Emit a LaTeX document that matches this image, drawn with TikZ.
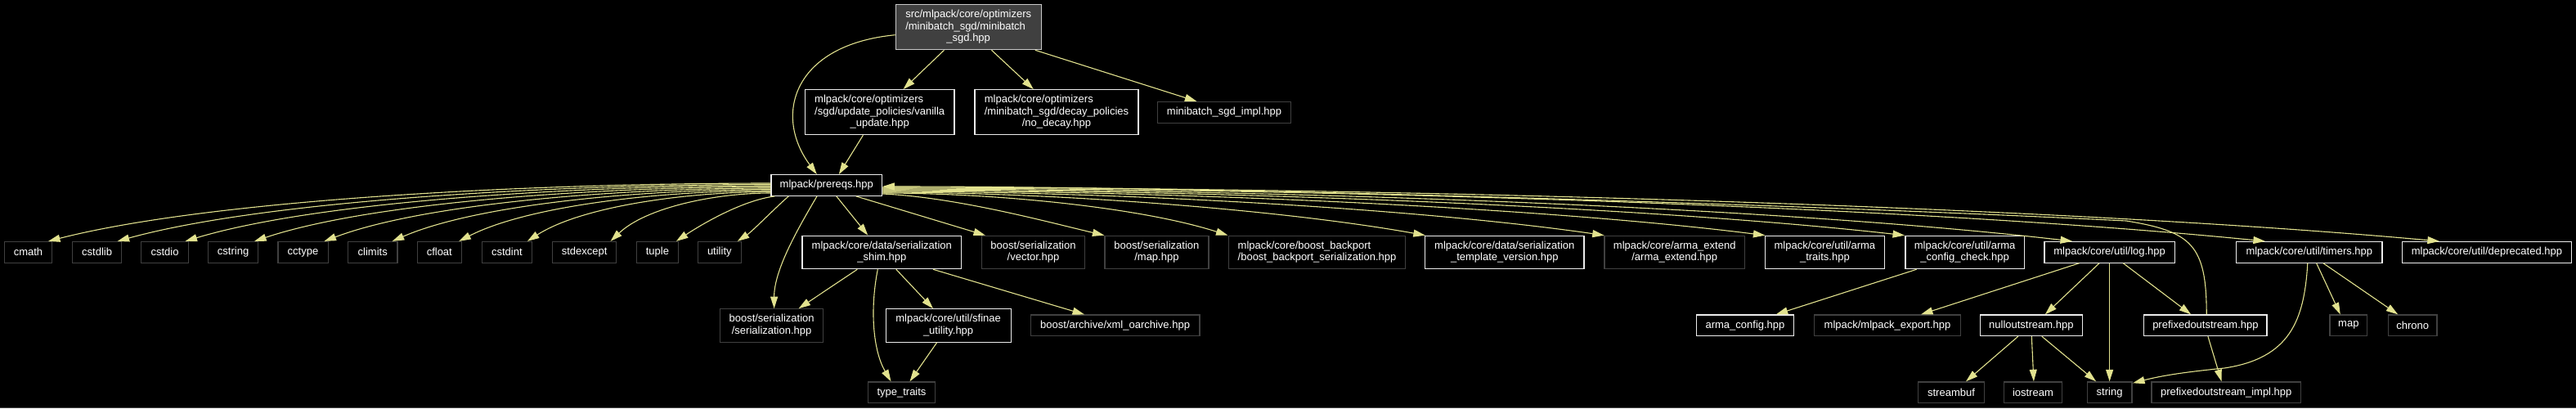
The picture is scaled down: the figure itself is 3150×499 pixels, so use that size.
\documentclass[tikz,border=0pt]{standalone}
\usepackage{fontspec}
\setmainfont{Liberation Sans}
\usetikzlibrary{arrows.meta,calc}
\definecolor{edgecol}{RGB}{226,226,142}
\definecolor{graybd}{RGB}{64,64,64}
\definecolor{whitebd}{RGB}{236,236,236}
\definecolor{rootfill}{RGB}{64,64,64}
\definecolor{rootbd}{RGB}{200,200,200}
\newcommand{\twol}[2]{\begin{tabular}{@{}l@{}}#1\\\multicolumn{1}{@{}c@{}}{#2}\end{tabular}}
\newcommand{\threel}[3]{\begin{tabular}{@{}l@{}}#1\\#2\\\multicolumn{1}{@{}c@{}}{#3}\end{tabular}}
\begin{document}
\begin{tikzpicture}[x=1pt,y=-1pt,
  base/.style={draw, line width=1.2pt, inner sep=0pt, text=white, fill=black,
    font=\fontsize{13}{14.3}\selectfont},
  wbox/.style={base, draw=whitebd},
  gbox/.style={base, draw=graybd},
  rbox/.style={base, draw=rootbd, fill=rootfill},
  w/.style={minimum width=#1pt},
  h1/.style={minimum height=25.6pt},
  h2/.style={minimum height=40.4pt},
  h3/.style={minimum height=55pt},
  dep/.style={draw=edgecol, line width=1.1pt,
    -{Triangle[length=14.5pt,width=9pt,fill=edgecol]}},
]
\fill[black] (0,0) rectangle (3150,499);
\useasboundingbox (0,0) rectangle (3150,499);
\draw[graybd, line width=1pt] (0,498.5) -- (3150,498.5);

% top
\node[rbox,w=178,h3] (root) at (1184.2,33.2) {\threel{src/mlpack/core/optimizers}{/minibatch\_sgd/minibatch}{\_sgd.hpp}};
\node[wbox,w=182.6,h3] (vanilla) at (1075.7,137.2) {\threel{mlpack/core/optimizers}{/sgd/update\_policies/vanilla}{\_update.hpp}};
\node[wbox,w=200,h3] (nodecay) at (1292,137.2) {\threel{mlpack/core/optimizers}{/minibatch\_sgd/decay\_policies}{/no\_decay.hpp}};
\node[gbox,w=162.5,h1] (sgdimpl) at (1497,137.3) {minibatch\_sgd\_impl.hpp};
\node[wbox,w=135.7,h1] (prereqs) at (1010.8,226.5) {mlpack/prereqs.hpp};

% row 2
\node[gbox,w=58.7,h1] (cmath) at (34.5,308.3) {cmath};
\node[gbox,w=60,h1] (cstdlib) at (118.6,308.3) {cstdlib};
\node[gbox,w=57.4,h1] (cstdio) at (201.5,308.3) {cstdio};
\node[gbox,w=61.2,h1] (cstring) at (285.1,308.3) {cstring};
\node[gbox,w=61.2,h1] (cctype) at (370.5,308.3) {cctype};
\node[gbox,w=60.6,h1] (climits) at (455.7,308.3) {climits};
\node[gbox,w=54.2,h1] (cfloat) at (537.3,308.3) {cfloat};
\node[gbox,w=61.2,h1] (cstdint) at (619.9,308.3) {cstdint};
\node[gbox,w=78.4,h1] (stdexcept) at (714.6,308.3) {stdexcept};
\node[gbox,w=50.4,h1] (tuple) at (803.9,308.3) {tuple};
\node[gbox,w=53,h1] (utility) at (879.8,308.3) {utility};
\node[wbox,w=194.5,h2] (shim) at (1078.3,308.5) {\twol{mlpack/core/data/serialization}{\_shim.hpp}};
\node[gbox,w=126.3,h2] (vector) at (1263.5,308.5) {\twol{boost/serialization}{/vector.hpp}};
\node[gbox,w=127,h2] (bmap) at (1414.4,308.5) {\twol{boost/serialization}{/map.hpp}};
\node[gbox,w=215.5,h2] (backport) at (1610.5,308.5) {\twol{mlpack/core/boost\_backport}{/boost\_backport\_serialization.hpp}};
\node[wbox,w=194.5,h2] (tmplver) at (1839.8,308.5) {\twol{mlpack/core/data/serialization}{\_template\_version.hpp}};
\node[gbox,w=171.6,h2] (armaext) at (2047.7,308.5) {\twol{mlpack/core/arma\_extend}{/arma\_extend.hpp}};
\node[wbox,w=146,h2] (armatraits) at (2231.4,308.5) {\twol{mlpack/core/util/arma}{\_traits.hpp}};
\node[wbox,w=145.1,h2] (armacc) at (2402.6,308.5) {\twol{mlpack/core/util/arma}{\_config\_check.hpp}};
\node[wbox,w=159.2,h1] (log) at (2579.6,308.3) {mlpack/core/util/log.hpp};
\node[wbox,w=178.3,h1] (timers) at (2823.8,308.3) {mlpack/core/util/timers.hpp};
\node[wbox,w=206.4,h1] (deprecated) at (3040.9,308.3) {mlpack/core/util/deprecated.hpp};

% row 3
\node[gbox,w=125.8,h2] (bser) at (943.6,398) {\twol{boost/serialization}{/serialization.hpp}};
\node[wbox,w=153,h2] (sfinae) at (1159.6,398) {\twol{mlpack/core/util/sfinae}{\_utility.hpp}};
\node[gbox,w=206.7,h1] (xmloa) at (1363.6,397.8) {boost/archive/xml\_oarchive.hpp};
\node[wbox,w=118.5,h1] (armacfg) at (2134,397.8) {arma\_config.hpp};
\node[gbox,w=178.3,h1] (export) at (2308,397.8) {mlpack/mlpack\_export.hpp};
\node[wbox,w=125.2,h1] (nullos) at (2483.8,397.8) {nulloutstream.hpp};
\node[wbox,w=150.1,h1] (prefos) at (2696.9,397.8) {prefixedoutstream.hpp};
\node[gbox,w=45.6,h1] (smap) at (2871.8,397.8) {map};
\node[gbox,w=59.7,h1] (chrono) at (2950.2,397.8) {chrono};

% row 4
\node[gbox,w=82.2,h1] (typetraits) at (1102.5,479.7) {type\_traits};
\node[gbox,w=80.4,h1] (streambuf) at (2386,479.7) {streambuf};
\node[gbox,w=71.3,h1] (iostream) at (2485.9,479.7) {iostream};
\node[gbox,w=54.7,h1] (string) at (2579.6,479.7) {string};
\node[gbox,w=182.4,h1] (prefimpl) at (2722.2,479.7) {prefixedoutstream\_impl.hpp};

% edges from root
\draw[dep] ($(root.west)+(0,9.5)$) .. controls +(-124,12) and +(-54,-73) .. ($(prereqs.north)+(-12,0)$);
\draw[dep] ($(root.south)+(-29.7,0)$) -- ($(vanilla.north)+(28.8,0)$);
\draw[dep] ($(root.south)+(28.3,0)$) -- ($(nodecay.north)+(-28.2,0)$);
\draw[dep] ($(root.south east)+(-8,0)$) -- ($(sgdimpl.north)+(-33.6,0)$);
\draw[dep] ($(vanilla.south)+(-20.3,0)$) -- ($(prereqs.north)+(15,0)$);

% prereqs to the left
\draw[dep] ($(prereqs.west)+(0,-2.5)$) .. controls +(-309,0) and +(194.5,-49.7) .. ($(cmath.north)+(24.5,0)$);
\draw[dep] ($(prereqs.west)+(0,-1)$) .. controls +(-280,0) and +(176,-48.7) .. ($(cstdlib.north)+(25,0)$);
\draw[dep] ($(prereqs.west)+(0,0.5)$) .. controls +(-251,0) and +(157.7,-47.6) .. ($(cstdio.north)+(25,0)$);
\draw[dep] ($(prereqs.west)+(0,2)$) .. controls +(-221,0) and +(139,-46.6) .. ($(cstring.north)+(26,0)$);
\draw[dep] ($(prereqs.west)+(0,3.5)$) .. controls +(-191,0) and +(120,-45.5) .. ($(cctype.north)+(26,0)$);
\draw[dep] ($(prereqs.west)+(0,5)$) .. controls +(-162,0) and +(102,-44.5) .. ($(climits.north)+(24,0)$);
\draw[dep] ($(prereqs.west)+(0,6.5)$) .. controls +(-134,0) and +(84,-43.4) .. ($(cfloat.north)+(24,0)$);
\draw[dep] ($(prereqs.west)+(0,8)$) .. controls +(-104,0) and +(65.6,-42.4) .. ($(cstdint.north)+(25,0)$);
\draw[dep] ($(prereqs.west)+(0,9.5)$) .. controls +(-69,0) and +(43,-41) .. ($(stdexcept.north)+(32,0)$);
\draw[dep] ($(prereqs.south west)+(5,0)$) .. controls +(-40,5) and +(30,-20) .. ($(tuple.north)+(23,0)$);
\draw[dep] ($(prereqs.south west)+(22,0)$) .. controls +(-12,10) and +(18,-12) .. ($(utility.north)+(22,0)$);

% prereqs downwards
\draw[dep] ($(prereqs.south)+(-11.8,0)$) .. controls +(-24,40.7) and +(0,-47) .. ($(bser.north)+(3,0)$);
\draw[dep] ($(prereqs.south)+(12,0)$) -- ($(shim.north)+(-17,0)$);
\draw[dep] ($(prereqs.south)+(36,0)$) -- ($(vector.north)+(-58.5,0)$);
\draw[dep] ($(prereqs.east)+(0,10.5)$) .. controls +(90,4) and +(-68,-16) .. ($(bmap.north)+(-64,0)$);

% prereqs to the right
\draw[dep] ($(prereqs.east)+(0,9.5)$) .. controls +(140,0) and +(-106,-34) .. ($(backport.north)+(-109,0)$);
\draw[dep] ($(prereqs.east)+(0,8.5)$) .. controls +(219,0) and +(-166,-30) .. ($(tmplver.north)+(-97,0)$);
\draw[dep] ($(prereqs.east)+(0,7.5)$) .. controls +(291,0) and +(-221,-32) .. ($(armaext.north)+(-86,0)$);
\draw[dep] ($(prereqs.east)+(0,6.5)$) .. controls +(356,0) and +(-270,-34) .. ($(armatraits.north)+(-73,0)$);
\draw[dep] ($(prereqs.east)+(0,5.5)$) .. controls +(412,0) and +(-312,-35) .. ($(armacc.north)+(-73.6,0)$);
\draw[dep] ($(prereqs.east)+(0,4.5)$) .. controls +(480,0) and +(-364,-42) .. ($(log.north)+(-45.6,0)$);
\draw[dep] ($(prereqs.east)+(0,3.5)$) .. controls +(558,0) and +(-423,-42) .. ($(timers.north)+(-54,0)$);
\draw[dep] ($(prereqs.east)+(0,2.5)$) .. controls +(628,0) and +(-476,-43) .. ($(deprecated.north)+(-58,0)$);

% prefixedoutstream back to prereqs
\coordinate (pbend) at (2600,270);
\draw[dep] ($(prefos.north)+(1.3,0)$) .. controls +(0,-85) and +(80,13) .. (pbend)
  .. controls +(-400,-20) and +(420,0) .. ($(prereqs.east)+(0,1.5)$);

% shim
\draw[dep] ($(shim.south)+(-30,0)$) -- ($(bser.north)+(33,0)$);
\draw[dep] ($(shim.south)+(-5,0)$) .. controls +(-10,51) and +(-21.5,-37) .. ($(typetraits.north)+(-13,0)$);
\draw[dep] ($(shim.south)+(17.5,0)$) -- ($(sfinae.north)+(-18.6,0)$);
\draw[dep] ($(shim.south)+(62.7,0)$) -- ($(xmloa.north)+(-37.6,0)$);
\draw[dep] ($(sfinae.south)+(-14,0)$) -- ($(typetraits.north)+(10,0)$);

% util
\draw[dep] ($(armacc.south)+(-59,0)$) -- ($(armacfg.north)+(37.7,0)$);
\draw[dep] ($(log.south)+(-37,0)$) -- ($(export.north)+(41,0)$);
\draw[dep] ($(log.south)+(-12.5,0)$) -- ($(nullos.north)+(17,0)$);
\draw[dep] (log.south) -- (string.north);
\draw[dep] ($(log.south)+(16.6,0)$) -- ($(prefos.north)+(-17.7,0)$);
\draw[dep] ($(nullos.south)+(-16,0)$) -- ($(streambuf.north)+(18,0)$);
\draw[dep] ($(nullos.south)+(0.5,0)$) -- ($(iostream.north)+(1,0)$);
\draw[dep] ($(nullos.south)+(13,0)$) -- ($(string.north)+(-16.5,0)$);
\draw[dep] ($(prefos.south)+(3,0)$) -- ($(prefimpl.north)+(-5.7,0)$);
\coordinate (tbend) at (2720,450);
\draw[dep] ($(timers.south)+(-2,0)$) .. controls +(-4,70) and +(80,-12) .. (tbend)
  .. controls +(-50,5) and +(35,-9) .. ($(string.north east)+(0.5,2)$);
\draw[dep] ($(timers.south)+(8.8,0)$) -- ($(smap.north)+(-10,0)$);
\draw[dep] ($(timers.south)+(17,0)$) -- ($(chrono.north)+(-18,0)$);
\end{tikzpicture}
\end{document}
